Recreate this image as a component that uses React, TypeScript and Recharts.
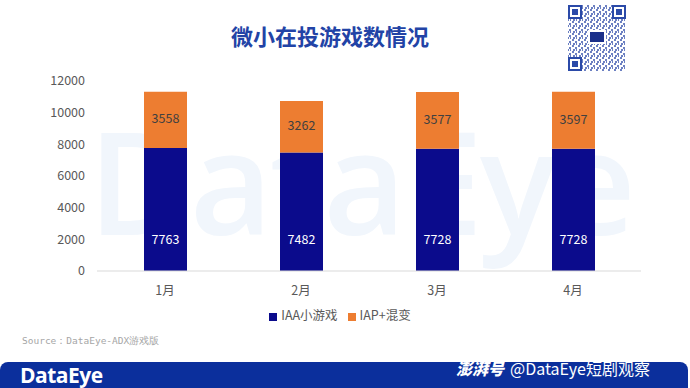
import React from "react";
import { BarChart, Bar, XAxis, YAxis, Legend, LabelList } from "recharts";

const months = ["1月", "2月", "3月", "4月"];
const iaaValues = [7763, 7482, 7728, 7728];
const iapValues = [3558, 3262, 3577, 3597];
const yTicks = [0, 2000, 4000, 6000, 8000, 10000, 12000];

const data = months.map((m, i) => ({ month: m, iaa: iaaValues[i], iap: iapValues[i] }));

const BLUE = "#0b0b8c";
const ORANGE = "#ed7d31";
const FONT = "'Noto Sans CJK SC', 'Noto Sans', sans-serif";

const BottomLabel = (props: any) => {
  const { x, y, width, height, value } = props;
  return (
    <text x={x + width / 2} y={y + height - 30} fill="#ffffff" fontSize={12.5} textAnchor="middle" dominantBaseline="middle" fontFamily={FONT}>
      {value}
    </text>
  );
};

const MidLabel = (props: any) => {
  const { x, y, width, height, value } = props;
  return (
    <text x={x + width / 2} y={y + height / 2} fill="#404040" fontSize={12.5} textAnchor="middle" dominantBaseline="middle" fontFamily={FONT}>
      {value}
    </text>
  );
};

// decorative qr-code placeholder
const QrBox = () => (
  <svg width={62} height={70} style={{ position: "absolute", left: 566, top: 3 }}>
    <defs>
      <pattern id="qrp" width={6} height={6} patternUnits="userSpaceOnUse">
        <rect x={0} y={0} width={6} height={6} fill="#ffffff" />
        <rect x={0} y={0} width={2} height={2} fill="#3b56ad" />
        <rect x={3} y={2} width={2} height={2} fill="#3b56ad" />
        <rect x={1} y={4} width={2} height={2} fill="#3b56ad" />
        <rect x={4} y={4} width={1} height={2} fill="#3b56ad" />
      </pattern>
    </defs>
    <rect x={0} y={0} width={62} height={70} fill="#ffffff" />
    <rect x={2} y={2} width={58} height={66} fill="url(#qrp)" opacity={0.75} />
    {[[2, 2], [46, 2], [2, 54]].map(([fx, fy], i) => (
      <g key={i}>
        <rect x={fx} y={fy} width={14} height={14} fill="#2b4aa8" />
        <rect x={fx + 2} y={fy + 2} width={10} height={10} fill="#ffffff" />
        <rect x={fx + 4} y={fy + 4} width={6} height={6} fill="#2b4aa8" />
      </g>
    ))}
    <rect x={22} y={27} width={18} height={14} fill="#ffffff" />
    <rect x={24} y={29} width={14} height={10} fill="#1a2f8a" />
  </svg>
);

export default function App() {
  return (
    <div style={{ position: "absolute", left: 0, top: 0, width: 690, height: 388, background: "#ffffff", overflow: "hidden", fontFamily: FONT }}>
      <div style={{ position: "absolute", left: 88, top: 108, fontSize: 143, fontWeight: 600, color: "#f1f6fc", fontFamily: "'Open Sans', sans-serif", letterSpacing: -3, lineHeight: "143px" }}>
        DataEye
      </div>
      <div style={{ position: "absolute", left: 0, width: 660, top: 19, textAlign: "center", fontSize: 22, fontWeight: 700, color: "#2243a6" }}>
        微小在投游戏数情况
      </div>
      <QrBox />
      <div style={{ position: "absolute", left: 0, top: 0 }}>
        <BarChart width={690} height={388} data={data} margin={{ top: 81, right: 49, left: 0, bottom: 68 }}>
          <XAxis dataKey="month" height={30} axisLine={{ stroke: "#d9d9d9" }} tickLine={false} tickMargin={9}
            tick={{ fill: "#595959", fontSize: 12.5, fontFamily: FONT }} />
          <YAxis width={97} domain={[0, 12000]} ticks={yTicks} axisLine={false} tickLine={false} tickMargin={6}
            tick={{ fill: "#595959", fontSize: 12.5, fontFamily: FONT }} />
          <Legend iconType="square" iconSize={8}
            wrapperStyle={{ top: 305, left: 0, width: 690, fontSize: 12.5, color: "#595959" }}
            formatter={(v: string) => <span style={{ color: "#595959" }}>{v}</span>} />
          <Bar dataKey="iaa" name="IAA小游戏" stackId="a" fill={BLUE} barSize={43} isAnimationActive={false}>
            <LabelList dataKey="iaa" content={BottomLabel} />
          </Bar>
          <Bar dataKey="iap" name="IAP+混变" stackId="a" fill={ORANGE} barSize={43} isAnimationActive={false}>
            <LabelList dataKey="iap" content={MidLabel} />
          </Bar>
        </BarChart>
      </div>
      <div style={{ position: "absolute", left: 22, top: 335, fontSize: 9.5, color: "#a6a6a6", fontFamily: "'DejaVu Sans Mono', monospace" }}>
        Source：DataEye-ADX游戏版
      </div>
      <div style={{ position: "absolute", left: 0, top: 362, width: 688, height: 26, background: "#0b2f9c", borderTopLeftRadius: 8, borderTopRightRadius: 8 }} />
      <div style={{ position: "absolute", left: 20, top: 363, fontSize: 21, fontWeight: 700, color: "#ffffff", fontFamily: "'Open Sans', sans-serif", lineHeight: "24px", letterSpacing: -0.5 }}>
        DataEye
      </div>
      <div style={{ position: "absolute", left: 456, top: 356, fontSize: 16, color: "#ffffff", lineHeight: "24px", whiteSpace: "nowrap" }}>
        <span style={{ fontStyle: "italic", fontWeight: 900, marginRight: 6 }}>澎湃号</span>@DataEye短剧观察
      </div>
    </div>
  );
}
